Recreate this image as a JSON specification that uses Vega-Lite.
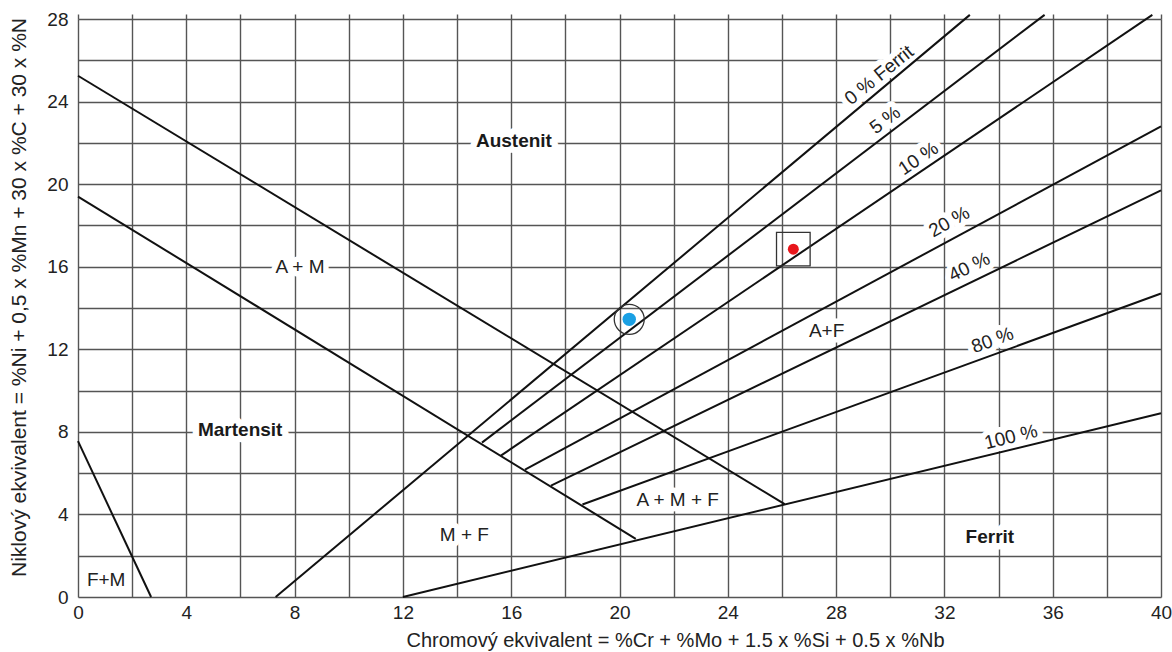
{
  "$schema": "https://vega.github.io/schema/vega-lite/v6.json",
  "width": 1083,
  "height": 578,
  "autosize": {"type": "none"},
  "padding": {"left": 78, "top": 19, "right": 11, "bottom": 55},
  "background": "white",
  "config": {
    "view": {"stroke": null},
    "font": "Liberation Sans",
    "axis": {
      "labelFont": "Liberation Sans",
      "titleFont": "Liberation Sans",
      "labelFontSize": 19,
      "titleFontSize": 20,
      "labelColor": "#222",
      "titleColor": "#222",
      "titleFontWeight": "normal",
      "gridColor": "#555",
      "gridWidth": 1.4,
      "gridOpacity": 1,
      "ticks": false,
      "domain": false
    }
  },
  "datasets": {
    "lines": [
      {"line": "F+M", "x": 0, "y": 7.55},
      {"line": "F+M", "x": 2.7, "y": 0},
      {"line": "A+M", "x": 0, "y": 25.25},
      {"line": "A+M", "x": 26.1, "y": 4.5},
      {"line": "M", "x": 0, "y": 19.4},
      {"line": "M", "x": 20.6, "y": 2.82},
      {"line": "0 %", "x": 7.3, "y": 0},
      {"line": "0 %", "x": 32.94, "y": 28.2},
      {"line": "5 %", "x": 14.92, "y": 7.48},
      {"line": "5 %", "x": 35.7, "y": 28.2},
      {"line": "10 %", "x": 15.62, "y": 6.85},
      {"line": "10 %", "x": 39.68, "y": 28.2},
      {"line": "20 %", "x": 16.51, "y": 6.17},
      {"line": "20 %", "x": 40, "y": 22.8},
      {"line": "40 %", "x": 17.47, "y": 5.4},
      {"line": "40 %", "x": 40, "y": 19.7},
      {"line": "80 %", "x": 18.63, "y": 4.48},
      {"line": "80 %", "x": 40, "y": 14.7},
      {"line": "100 %", "x": 12, "y": 0},
      {"line": "100 %", "x": 40, "y": 8.9}
    ],
    "labels": [
      {"label": "Austenit", "x": 16.1, "y": 22.08},
      {"label": "Martensit", "x": 5.99, "y": 8.11},
      {"label": "Ferrit", "x": 33.68, "y": 2.9},
      {"label": "A + M", "x": 8.2, "y": 15.99},
      {"label": "A+F", "x": 27.65, "y": 12.87},
      {"label": "M + F", "x": 14.27, "y": 3.02},
      {"label": "A + M + F", "x": 22.15, "y": 4.72},
      {"label": "F+M", "x": 1.04, "y": 0.84},
      {"label": "0 % Ferrit", "x": 29.59, "y": 25.28},
      {"label": "5 %", "x": 29.81, "y": 23.1},
      {"label": "10 %", "x": 31.04, "y": 21.24},
      {"label": "20 %", "x": 32.18, "y": 18.17},
      {"label": "40 %", "x": 32.92, "y": 15.99},
      {"label": "80 %", "x": 33.78, "y": 12.44},
      {"label": "100 %", "x": 34.46, "y": 7.75}
    ],
    "samples": [
      {"sample": "A", "x": 20.36, "y": 13.45},
      {"sample": "B", "x": 26.42, "y": 16.85}
    ]
  },
  "resolve": {"axis": {"x": "independent", "y": "independent"}, "scale": {"size": "independent"}},
  "layer": [
    {
      "data": {"name": "labels"},
      "transform": [{"filter": "indexof(['Austenit','Martensit','Ferrit'], datum.label) < 0"}],
      "mark": {"type": "text", "font": "Liberation Sans", "fontSize": 19, "fill": "white", "stroke": "white", "strokeWidth": 11, "strokeJoin": "round", "align": "center", "baseline": "middle"},
      "encoding": {
        "x": {"field": "x", "type": "quantitative", "scale": {"domain": [0, 40], "nice": false, "zero": false}, "axis": null},
        "y": {"field": "y", "type": "quantitative", "scale": {"domain": [0, 28], "nice": false, "zero": false}, "axis": null},
        "text": {"field": "label"},
        "angle": {
          "condition": [
            {"test": "datum.label === '0 % Ferrit'", "value": 321},
            {"test": "datum.label === '5 %'", "value": 323},
            {"test": "datum.label === '10 %'", "value": 326},
            {"test": "datum.label === '20 %'", "value": 331},
            {"test": "datum.label === '40 %'", "value": 334},
            {"test": "datum.label === '80 %'", "value": 340},
            {"test": "datum.label === '100 %'", "value": 346}
          ],
          "value": 0
        }
      }
    },
    {
      "data": {"name": "labels"},
      "transform": [{"filter": "indexof(['Austenit','Martensit','Ferrit'], datum.label) >= 0"}],
      "mark": {"type": "text", "font": "Liberation Sans", "fontSize": 19, "fontWeight": "bold", "fill": "white", "stroke": "white", "strokeWidth": 13, "strokeJoin": "round", "align": "center", "baseline": "middle"},
      "encoding": {
        "x": {
          "field": "x", "type": "quantitative", "scale": {"domain": [0, 40], "nice": false, "zero": false},
          "axis": {"orient": "top", "values": [0, 2, 4, 6, 8, 10, 12, 14, 16, 18, 20, 22, 24, 26, 28, 30, 32, 34, 36, 38, 40], "labels": false, "ticks": true, "tickSize": 5, "tickColor": "#555", "tickWidth": 1.4, "domain": false, "grid": false, "title": null}
        },
        "y": {"field": "y", "type": "quantitative", "scale": {"domain": [0, 28], "nice": false, "zero": false}, "axis": null},
        "text": {"field": "label"}
      }
    },
    {
      "data": {"name": "lines"},
      "mark": {"type": "line", "color": "#111", "strokeWidth": 2},
      "encoding": {
        "x": {
          "field": "x", "type": "quantitative", "scale": {"domain": [0, 40], "nice": false, "zero": false},
          "axis": {
            "orient": "bottom",
            "values": [0, 2, 4, 6, 8, 10, 12, 14, 16, 18, 20, 22, 24, 26, 28, 30, 32, 34, 36, 38, 40],
            "labelExpr": "datum.value % 4 === 0 ? datum.label : ''",
            "labelPadding": 6,
            "labelFlush": false,
            "labelOverlap": false,
            "grid": true,
            "title": "Chromový ekvivalent = %Cr + %Mo + 1.5 x %Si + 0.5 x %Nb",
            "titleX": 597,
            "titleY": 43,
            "titleAlign": "center",
            "titleBaseline": "middle"
          }
        },
        "y": {
          "field": "y", "type": "quantitative", "scale": {"domain": [0, 28], "nice": false, "zero": false},
          "axis": {
            "orient": "left",
            "values": [0, 2, 4, 6, 8, 10, 12, 14, 16, 18, 20, 22, 24, 26, 28],
            "labelExpr": "datum.value % 4 === 0 ? datum.label : ''",
            "labelPadding": 10,
            "labelFlush": false,
            "labelOverlap": false,
            "grid": true,
            "title": "Niklový ekvivalent = %Ni + 0,5 x %Mn + 30 x %C + 30 x %N",
            "titleFontSize": 21,
            "titleX": -59,
            "titleY": 278,
            "titleAlign": "center",
            "titleBaseline": "middle",
            "titleAngle": -90
          }
        },
        "detail": {"field": "line"}
      }
    },
    {
      "data": {"name": "labels"},
      "transform": [{"filter": "indexof(['Austenit','Martensit','Ferrit'], datum.label) < 0"}],
      "mark": {"type": "text", "font": "Liberation Sans", "fontSize": 19, "fill": "#222", "align": "center", "baseline": "middle"},
      "encoding": {
        "x": {"field": "x", "type": "quantitative", "scale": {"domain": [0, 40], "nice": false, "zero": false}, "axis": null},
        "y": {"field": "y", "type": "quantitative", "scale": {"domain": [0, 28], "nice": false, "zero": false}, "axis": null},
        "text": {"field": "label"},
        "angle": {
          "condition": [
            {"test": "datum.label === '0 % Ferrit'", "value": 321},
            {"test": "datum.label === '5 %'", "value": 323},
            {"test": "datum.label === '10 %'", "value": 326},
            {"test": "datum.label === '20 %'", "value": 331},
            {"test": "datum.label === '40 %'", "value": 334},
            {"test": "datum.label === '80 %'", "value": 340},
            {"test": "datum.label === '100 %'", "value": 346}
          ],
          "value": 0
        }
      }
    },
    {
      "data": {"name": "labels"},
      "transform": [{"filter": "indexof(['Austenit','Martensit','Ferrit'], datum.label) >= 0"}],
      "mark": {"type": "text", "font": "Liberation Sans", "fontSize": 19, "fontWeight": "bold", "fill": "#1a1a1a", "align": "center", "baseline": "middle"},
      "encoding": {
        "x": {"field": "x", "type": "quantitative", "scale": {"domain": [0, 40], "nice": false, "zero": false}, "axis": null},
        "y": {"field": "y", "type": "quantitative", "scale": {"domain": [0, 28], "nice": false, "zero": false}, "axis": null},
        "text": {"field": "label"}
      }
    },
    {
      "data": {"name": "samples"},
      "mark": {"type": "point", "filled": false, "stroke": "#333", "strokeWidth": 1.3, "opacity": 1},
      "encoding": {
        "x": {"field": "x", "type": "quantitative", "scale": {"domain": [0, 40], "nice": false, "zero": false}, "axis": null},
        "y": {"field": "y", "type": "quantitative", "scale": {"domain": [0, 28], "nice": false, "zero": false}, "axis": null},
        "shape": {"field": "sample", "type": "nominal", "scale": {"domain": ["A", "B"], "range": ["circle", "square"]}, "legend": null},
        "size": {"field": "sample", "type": "nominal", "scale": {"domain": ["A", "B"], "range": [900, 1130]}, "legend": null}
      }
    },
    {
      "data": {"name": "samples"},
      "mark": {"type": "circle", "opacity": 1},
      "encoding": {
        "x": {"field": "x", "type": "quantitative", "scale": {"domain": [0, 40], "nice": false, "zero": false}, "axis": null},
        "y": {"field": "y", "type": "quantitative", "scale": {"domain": [0, 28], "nice": false, "zero": false}, "axis": null},
        "color": {"field": "sample", "type": "nominal", "scale": {"domain": ["A", "B"], "range": ["#1aa0e4", "#e8161b"]}, "legend": null},
        "size": {"field": "sample", "type": "nominal", "scale": {"domain": ["A", "B"], "range": [180, 120]}, "legend": null}
      }
    }
  ]
}
